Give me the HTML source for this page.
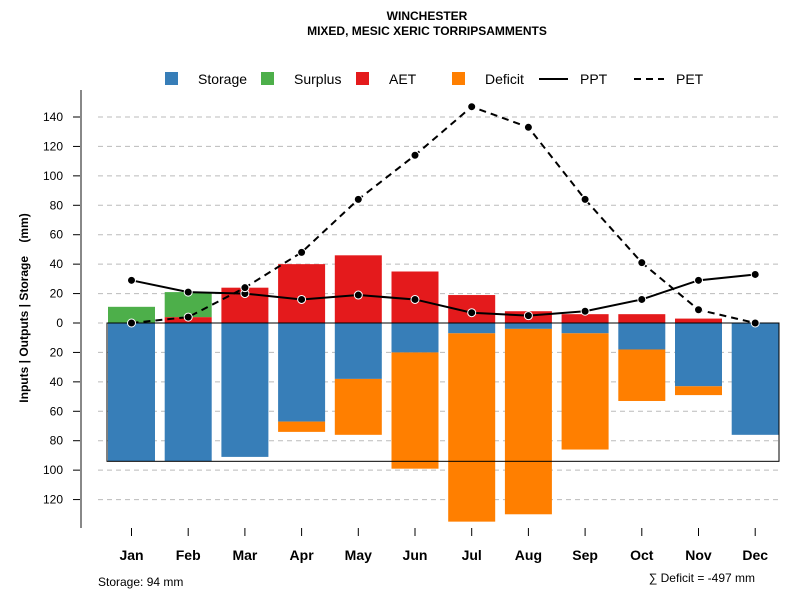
<!DOCTYPE html>
<html><head><meta charset="utf-8"><style>body{margin:0;background:#fff}svg{font-family:"Liberation Sans",sans-serif}</style></head>
<body>
<svg id="c" width="800" height="600" viewBox="0 0 800 600" xmlns="http://www.w3.org/2000/svg">
<text x="427" y="20" font-size="12" font-weight="bold" text-anchor="middle">WINCHESTER</text>
<text x="427" y="35" font-size="12" font-weight="bold" text-anchor="middle">MIXED, MESIC XERIC TORRIPSAMMENTS</text>
<text transform="translate(28,308) rotate(-90)" font-size="12" font-weight="bold" text-anchor="middle">Inputs | Outputs | Storage&#160;&#160;&#160;&#160;(mm)</text>
<g id="grid"></g><g id="bars"></g><g id="lines"></g><g id="axes"></g>
<g font-size="14">
<rect x="165" y="72" width="13" height="13" fill="#377eb8"/><text x="198" y="84">Storage</text>
<rect x="261" y="72" width="13" height="13" fill="#4daf4a"/><text x="294" y="84">Surplus</text>
<rect x="356" y="72" width="13" height="13" fill="#e41a1c"/><text x="389" y="84">AET</text>
<rect x="452" y="72" width="13" height="13" fill="#ff7f00"/><text x="485" y="84">Deficit</text>
<line x1="539" y1="79" x2="568" y2="79" stroke="#000" stroke-width="2"/><text x="580" y="84">PPT</text>
<line x1="634" y1="79" x2="664" y2="79" stroke="#000" stroke-width="2" stroke-dasharray="7,5"/><text x="676" y="84">PET</text>
</g>
<text x="98" y="586" font-size="12">Storage: 94 mm</text>
<text x="755" y="582" font-size="12" text-anchor="end">∑ Deficit = -497 mm</text>
</svg>
<script>
const months=["Jan","Feb","Mar","Apr","May","Jun","Jul","Aug","Sep","Oct","Nov","Dec"];
const storage=[94,94,91,67,38,20,7,4,7,18,43,76];
const deficit=[0,0,0,7,38,79,128,126,79,35,6,0];
const aet=[0,4,24,40,46,35,19,8,6,6,3,0];
const surplus=[11,17,0,0,0,0,0,0,0,0,0,0];
const ppt=[29,21,20,16,19,16,7,5,8,16,29,33];
const pet=[0,4,24,48,84,114,147,133,84,41,9,0];
const yTicks=[140,120,100,80,60,40,20,0,-20,-40,-60,-80,-100,-120];
const soilStorage=94;
const NS="http://www.w3.org/2000/svg";
const y=v=>323-v*1.4714, x=i=>131.5+i*56.7, bw=47;
function mk(p,t,a){const e=document.createElementNS(NS,t);for(const k in a)e.setAttribute(k,a[k]);document.getElementById(p).appendChild(e);return e;}
yTicks.forEach(v=>{
 const g=mk('grid','line',{x1:98,x2:779,y1:y(v),y2:y(v),stroke:'#bbb','stroke-dasharray':'5,4'});
 
 
 const t=mk('axes','line',{x1:73,x2:81,y1:y(v),y2:y(v),stroke:'#000'});
 
 
 const l=mk('axes','text',{x:63,y:y(v)+4,'font-size':12,'text-anchor':'end'});l.textContent=Math.abs(v);
 
 
});
const ax=mk('axes','line',{x1:81,x2:81,y1:90,y2:528,stroke:'#888','stroke-width':2});


months.forEach((m,i)=>{
 const x0=x(i)-bw/2;
 const s=mk('bars','rect',{x:x0,y:y(0),width:bw,height:y(-storage[i])-y(0),fill:'#377eb8'});
 
 
 if(deficit[i]>0){const d=mk('bars','rect',{x:x0,y:y(-storage[i]),width:bw,height:y(-storage[i]-deficit[i])-y(-storage[i]),fill:'#ff7f00'});
 
 }
 if(aet[i]>0){const a=mk('bars','rect',{x:x0,y:y(aet[i]),width:bw,height:y(0)-y(aet[i]),fill:'#e41a1c'});
 
 }
 if(surplus[i]>0){const u=mk('bars','rect',{x:x0,y:y(aet[i]+surplus[i]),width:bw,height:y(aet[i])-y(aet[i]+surplus[i]),fill:'#4daf4a'});
 
 }
 const tk=mk('axes','line',{x1:x(i),x2:x(i),y1:528,y2:536,stroke:'#000'});
 
 
 const lb=mk('axes','text',{x:x(i),y:560,'font-size':14,'font-weight':'bold','text-anchor':'middle'});lb.textContent=m;
 
 
});
const box=mk('bars','rect',{x:107,y:y(0),width:672,height:y(-soilStorage)-y(0),fill:'none',stroke:'#000'});


[[ppt,'ppt-line',null],[pet,'pet-line','7,5']].forEach(([d,n,da])=>{
 const p=mk('lines','polyline',{points:d.map((v,i)=>x(i)+','+y(v)).join(' '),fill:'none',stroke:'#000','stroke-width':2});
 if(da)p.setAttribute('stroke-dasharray',da);
 
 
 d.forEach((v,i)=>{const c=mk('lines','circle',{cx:x(i),cy:y(v),r:4,fill:'#000',stroke:'#fff','stroke-width':1});
 
 });
});
</script>
</body></html>
